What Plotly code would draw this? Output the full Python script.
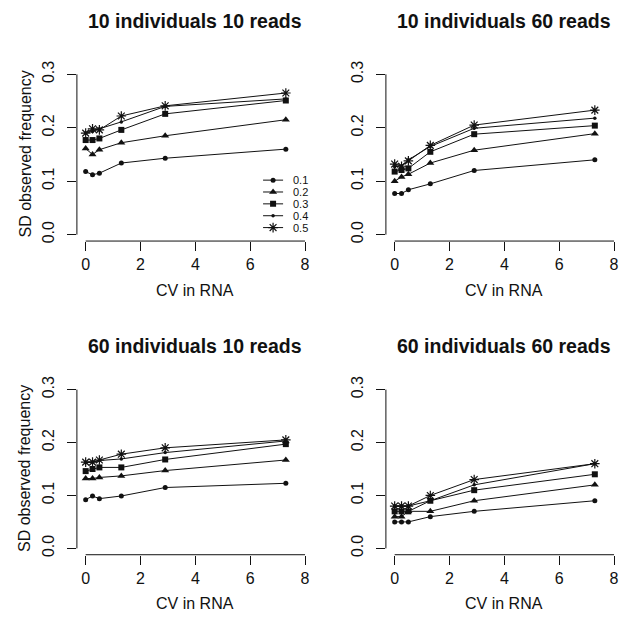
import plotly.graph_objects as go

# ---------------- data ----------------
cv_rna = [0, 0.25, 0.5, 1.3, 2.9, 7.3]
series_names = ["0.1", "0.2", "0.3", "0.4", "0.5"]
panel_titles = ["10 individuals 10 reads", "10 individuals 60 reads",
                "60 individuals 10 reads", "60 individuals 60 reads"]
x_ticks = [0, 2, 4, 6, 8]
y_ticks = [0.0, 0.1, 0.2, 0.3]
y_tick_labels = ["0.0", "0.1", "0.2", "0.3"]
x_label = "CV in RNA"
y_label = "SD observed frequency"

p1_01 = [0.118, 0.112, 0.115, 0.134, 0.143, 0.160]
p1_02 = [0.161, 0.150, 0.159, 0.172, 0.185, 0.215]
p1_03 = [0.177, 0.177, 0.180, 0.196, 0.226, 0.251]
p1_04 = [0.190, 0.193, 0.198, 0.211, 0.240, 0.254]
p1_05 = [0.190, 0.198, 0.196, 0.222, 0.241, 0.265]

p2_01 = [0.077, 0.077, 0.084, 0.095, 0.120, 0.140]
p2_02 = [0.100, 0.108, 0.113, 0.134, 0.158, 0.189]
p2_03 = [0.118, 0.121, 0.124, 0.155, 0.188, 0.204]
p2_04 = [0.127, 0.129, 0.140, 0.165, 0.199, 0.218]
p2_05 = [0.132, 0.128, 0.138, 0.167, 0.205, 0.233]

p3_01 = [0.092, 0.099, 0.094, 0.099, 0.115, 0.123]
p3_02 = [0.132, 0.132, 0.134, 0.137, 0.147, 0.167]
p3_03 = [0.146, 0.150, 0.153, 0.153, 0.168, 0.197]
p3_04 = [0.162, 0.163, 0.166, 0.169, 0.181, 0.203]
p3_05 = [0.163, 0.163, 0.167, 0.178, 0.190, 0.205]

p4_01 = [0.05, 0.05, 0.05, 0.06, 0.07, 0.09]
p4_02 = [0.06, 0.06, 0.07, 0.07, 0.09, 0.12]
p4_03 = [0.07, 0.07, 0.07, 0.09, 0.11, 0.14]
p4_04 = [0.08, 0.08, 0.08, 0.09, 0.12, 0.16]
p4_05 = [0.08, 0.08, 0.08, 0.10, 0.13, 0.16]

panels = [
    [p1_01, p1_02, p1_03, p1_04, p1_05],
    [p2_01, p2_02, p2_03, p2_04, p2_05],
    [p3_01, p3_02, p3_03, p3_04, p3_05],
    [p4_01, p4_02, p4_03, p4_04, p4_05],
]

# ---------------- styles / layout ----------------
W, H = 626, 620
FONT = "Liberation Sans, Arial, sans-serif"
INK = "#111111"
styles = [
    dict(symbol="circle", size=5, line=dict(width=0)),
    dict(symbol="triangle-up", size=7, line=dict(width=0)),
    dict(symbol="square", size=6, line=dict(width=0)),
    dict(symbol="circle", size=3.5, line=dict(width=0)),
    dict(symbol="asterisk-open", size=8, line=dict(width=1.2, color=INK)),
]

XR = [-0.32, 8.32]
YR = [-0.012, 0.312]
xdoms = [[76.9 / W, 313.8 / W], [385.9 / W, 622.8 / W]]
ydoms = [[1 - 237.5 / H, 1 - 61.8 / H], [1 - 555.8 / H, 1 - 381.8 / H]]
title_px_y = [14, 344]
xlab_px_y = [288, 605]
ylab_px_x = 25

def to_paper(dom, rng, v):
    return dom[0] + (v - rng[0]) / (rng[1] - rng[0]) * (dom[1] - dom[0])

fig = go.Figure()
shapes = []
annotations = []

for i, data in enumerate(panels):
    row, col = divmod(i, 2)
    xd, yd = xdoms[col], ydoms[row]
    ax = "" if i == 0 else str(i + 1)
    for name, vals, st in zip(series_names, data, styles):
        mk = dict(color=INK, **st)
        fig.add_trace(go.Scatter(
            x=cv_rna, y=vals, mode="lines+markers", name=name,
            line=dict(color=INK, width=1), marker=mk,
            xaxis="x" + ax, yaxis="y" + ax, showlegend=False, cliponaxis=False))
    fig.layout["xaxis" + ax] = dict(
        domain=xd, range=XR, anchor="y" + ax, tickvals=x_ticks,
        ticks="outside", ticklen=9, tickwidth=1, tickcolor=INK,
        showline=False, showgrid=False, zeroline=False,
        ticklabeloverflow="allow",
        tickfont=dict(family=FONT, size=16, color=INK))
    fig.layout["yaxis" + ax] = dict(
        domain=yd, range=YR, anchor="x" + ax, tickvals=y_ticks,
        ticktext=y_tick_labels, tickangle=-90, ticklabelstandoff=7,
        ticks="outside", ticklen=9, tickwidth=1, tickcolor=INK,
        showline=False, showgrid=False, zeroline=False,
        ticklabeloverflow="allow",
        tickfont=dict(family=FONT, size=16, color=INK))
    # R-style axis lines spanning first to last tick
    yb = yd[0]
    xl = xd[0]
    shapes.append(dict(type="line", xref="paper", yref="paper",
                       x0=to_paper(xd, XR, x_ticks[0]), x1=to_paper(xd, XR, x_ticks[-1]),
                       y0=yb, y1=yb, line=dict(color=INK, width=1)))
    shapes.append(dict(type="line", xref="paper", yref="paper",
                       x0=xl, x1=xl,
                       y0=to_paper(yd, YR, y_ticks[0]), y1=to_paper(yd, YR, y_ticks[-1]),
                       line=dict(color=INK, width=1)))
    # titles
    annotations.append(dict(text="<b>" + panel_titles[i] + "</b>", xref="paper", yref="paper",
                            x=(xd[0] + xd[1]) / 2, y=1 - title_px_y[row] / H,
                            xanchor="center", yanchor="middle", showarrow=False,
                            font=dict(family=FONT, size=19.5, color=INK)))
    annotations.append(dict(text=x_label, xref="paper", yref="paper",
                            x=(xd[0] + xd[1]) / 2, y=1 - xlab_px_y[row] / H,
                            xanchor="center", yanchor="middle", showarrow=False,
                            font=dict(family=FONT, size=16, color=INK)))
    if col == 0:
        annotations.append(dict(text=y_label, xref="paper", yref="paper",
                                x=ylab_px_x / W, y=(yd[0] + yd[1]) / 2, textangle=-90,
                                xanchor="center", yanchor="middle", showarrow=False,
                                font=dict(family=FONT, size=16, color=INK)))

# ---------------- legend (panel 1, bottom right, R style) ----------------
leg_x0, leg_x1, leg_xt = 6.47, 7.2, 7.5
leg_y0, leg_dy = 0.102, -0.0222
for k, (name, st) in enumerate(zip(series_names, styles)):
    yy = leg_y0 + k * leg_dy
    mk = dict(color=INK, **st)
    fig.add_trace(go.Scatter(x=[leg_x0, leg_x1], y=[yy, yy], mode="lines",
                             line=dict(color=INK, width=1), xaxis="x", yaxis="y",
                             showlegend=False, hoverinfo="skip"))
    fig.add_trace(go.Scatter(x=[(leg_x0 + leg_x1) / 2], y=[yy], mode="markers",
                             marker=mk, xaxis="x", yaxis="y",
                             showlegend=False, hoverinfo="skip"))
    annotations.append(dict(text=name, xref="x", yref="y", x=leg_xt, y=yy,
                            xanchor="left", yanchor="middle", showarrow=False,
                            font=dict(family=FONT, size=11, color=INK)))

fig.update_layout(
    width=W, height=H, margin=dict(l=0, r=0, t=0, b=0),
    paper_bgcolor="white", plot_bgcolor="white",
    shapes=shapes, annotations=annotations, showlegend=False,
)

fig.write_html("out.html", config={"displayModeBar": False},
               post_script="document.body.style.margin='0';document.body.style.overflow='hidden';")
